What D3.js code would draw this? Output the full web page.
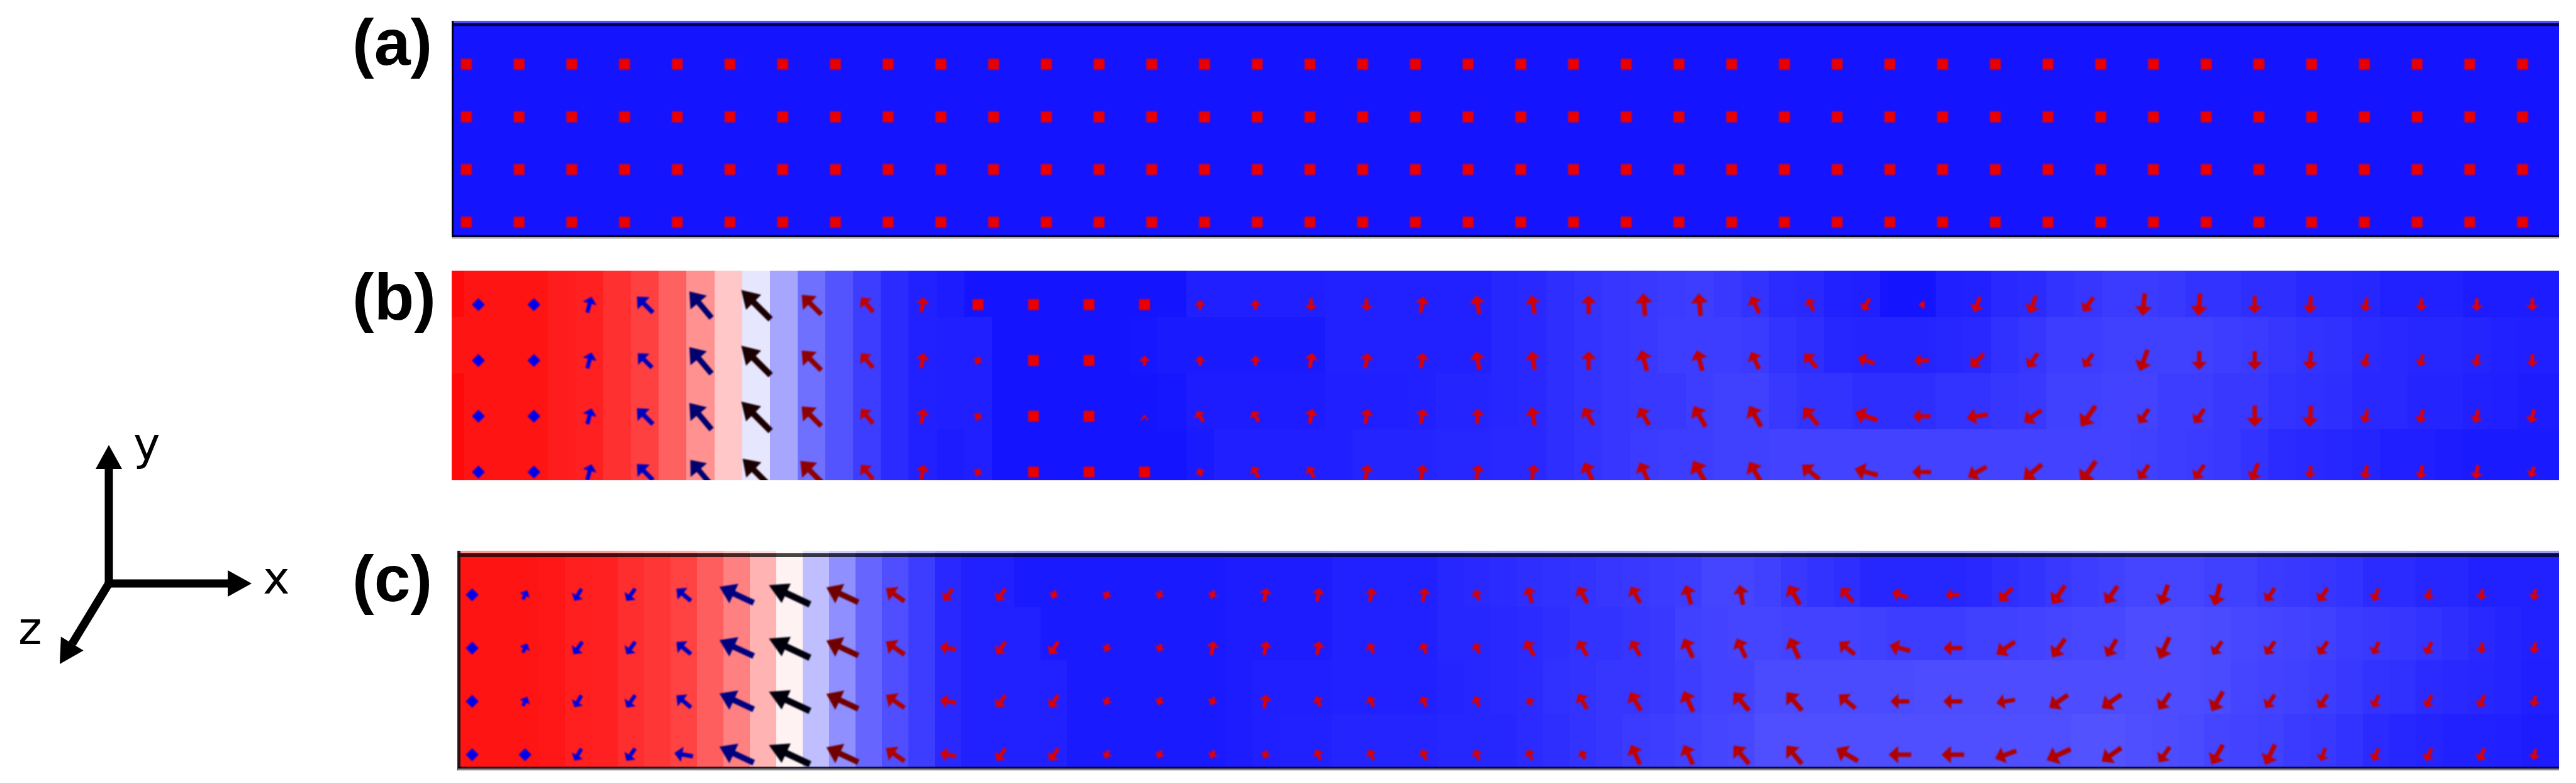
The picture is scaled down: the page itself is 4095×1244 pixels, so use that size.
<!DOCTYPE html>
<html>
<head>
<meta charset="utf-8">
<script src="https://cdn.jsdelivr.net/npm/d3@7"></script>
<style>
    html, body { margin: 0; padding: 0; background: #fff; }
    svg { display: block; }
</style>
</head>
<body>
<div id="chart"></div>
<script>
// background mz (percent) per half-column, one list for each row band. panel (b)
let bgB0 = [96,92,92,92,89,87,81,75,62,43,22,-10,-35,-56,-67,-76,-83,-87,-89,-92,-92,-92,-92,-92,-92,-92,-92,-88,-88,-88,-88,-88,-87,-87,-87,-87,-87,-87,-85,-84,-82,-80,-79,-78,-77,-76,-78,-80,-83,-84,-87,-88,-92,-92,-88,-87,-84,-83,-80,-79,-77,-77,-78,-80,-80,-82,-82,-84,-84,-85,-87,-87,-87,-89,-89,-89,-89];
let bgB1 = [92,92,92,92,89,87,81,75,62,43,22,-10,-35,-56,-67,-76,-83,-87,-88,-88,-92,-92,-92,-92,-92,-91,-90,-90,-90,-90,-90,-90,-87,-87,-87,-87,-87,-87,-85,-84,-82,-80,-79,-78,-76,-76,-76,-77,-80,-82,-85,-86,-86,-86,-85,-84,-81,-79,-76,-76,-75,-75,-75,-75,-76,-77,-79,-80,-81,-83,-84,-85,-85,-86,-87,-88,-88];
let bgB2 = [96,92,92,92,89,87,81,75,62,43,22,-10,-35,-56,-67,-76,-83,-87,-88,-88,-92,-92,-92,-92,-92,-92,-91,-89,-89,-89,-89,-89,-88,-88,-88,-87,-86,-86,-85,-84,-82,-80,-79,-78,-78,-76,-75,-75,-78,-80,-80,-82,-82,-82,-80,-80,-79,-78,-75,-75,-74,-74,-76,-76,-78,-78,-80,-81,-82,-84,-84,-86,-86,-87,-88,-89,-89];
let bgB3 = [96,92,92,92,89,87,81,75,62,43,22,-10,-35,-56,-67,-76,-83,-87,-89,-88,-92,-92,-92,-92,-92,-92,-92,-90,-88,-88,-88,-88,-88,-86,-86,-86,-85,-85,-84,-84,-82,-80,-79,-77,-76,-76,-75,-75,-74,-74,-74,-74,-74,-74,-74,-74,-74,-74,-74,-74,-74,-75,-76,-77,-78,-80,-83,-84,-85,-86,-88,-88,-89,-90,-90,-90,-90];

// panel (c)
let bgC0 = [92,92,92,92,91,88,87,82,79,74,63,50,30,5,-25,-44,-60,-69,-76,-84,-87,-87,-90,-90,-90,-90,-90,-90,-90,-90,-89,-89,-89,-89,-87,-87,-87,-87,-85,-84,-83,-82,-81,-80,-79,-78,-77,-76,-73,-73,-75,-78,-80,-82,-85,-85,-85,-85,-84,-82,-80,-78,-76,-75,-73,-73,-73,-75,-75,-77,-78,-79,-80,-83,-83,-85,-85,-87,-87,-87,-87];
let bgC1 = [92,92,92,92,91,88,87,82,79,74,63,50,30,5,-25,-44,-60,-69,-76,-84,-87,-87,-87,-90,-90,-90,-90,-90,-90,-90,-89,-89,-89,-89,-87,-87,-87,-87,-85,-85,-84,-83,-82,-80,-80,-79,-78,-75,-74,-73,-73,-74,-74,-74,-75,-76,-76,-76,-75,-75,-74,-73,-72,-72,-70,-70,-70,-71,-72,-73,-74,-75,-77,-78,-79,-80,-82,-84,-86,-87,-87];
let bgC2 = [92,92,92,92,91,88,87,82,79,74,63,50,30,5,-25,-44,-60,-69,-76,-84,-87,-87,-87,-87,-90,-90,-90,-90,-90,-90,-89,-88,-88,-88,-87,-87,-87,-87,-86,-85,-84,-83,-81,-80,-79,-79,-78,-76,-74,-74,-71,-71,-71,-71,-71,-71,-70,-70,-70,-70,-70,-70,-70,-70,-70,-70,-70,-71,-73,-74,-75,-76,-78,-80,-81,-83,-84,-85,-86,-88,-88];
let bgC3 = [92,92,92,92,91,88,87,82,79,74,63,50,30,5,-25,-44,-60,-69,-76,-84,-87,-87,-87,-87,-90,-90,-90,-90,-90,-90,-89,-88,-87,-87,-86,-86,-86,-86,-85,-85,-85,-83,-82,-80,-79,-77,-76,-75,-73,-72,-69,-69,-69,-69,-69,-69,-69,-69,-69,-69,-69,-69,-68,-68,-69,-70,-71,-73,-74,-75,-77,-78,-80,-83,-85,-86,-87,-87,-88,-89,-89];

// in-plane direction (degrees, 90 = up) and length of every arrow, 0 length = out of plane
let angB0 = [0,0,75,135,130,135,135,130,80,0,0,0,0,90,90,270,270,80,100,100,90,95,95,115,115,240,180,250,250,235,265,265,270,265,260,270,270,270];
let lenB0 = [0,0,26,36,55,66,44,30,24,0,0,0,0,16,16,20,20,26,30,30,30,36,36,30,22,22,10,26,30,28,36,36,28,28,22,20,20,20];
let angB1 = [0,0,75,135,130,135,135,130,80,60,0,0,90,90,90,80,80,80,100,100,90,105,105,115,130,160,180,225,235,235,250,270,270,265,255,255,255,270];
let lenB1 = [0,0,26,32,55,66,44,30,24,14,0,0,16,16,16,24,24,24,30,30,30,34,34,30,30,28,24,30,28,26,36,30,30,30,22,20,20,20];
let angB2 = [0,0,75,135,130,135,135,130,80,60,0,0,90,120,120,80,80,80,85,100,120,120,120,120,130,160,180,190,215,235,235,235,270,265,255,255,255,255];
let lenB2 = [0,0,26,36,55,66,44,30,24,14,0,0,6,20,20,24,24,24,24,30,32,32,38,38,36,38,28,34,34,40,28,28,34,34,22,22,22,22];
let angB3 = [0,0,75,135,130,135,135,130,80,60,0,0,0,110,120,120,80,80,80,80,115,115,120,120,140,165,180,210,220,235,235,235,250,265,260,260,260,250];
let lenB3 = [0,0,26,36,50,60,50,30,24,14,0,0,0,14,20,20,24,24,24,24,34,34,42,38,36,38,30,34,38,42,28,28,30,20,22,22,22,18];

let angC0 = [0,65,240,235,140,155,155,155,145,235,235,250,65,250,250,80,80,80,80,115,105,120,120,105,100,120,130,160,180,225,235,235,250,255,235,235,245,260,260,260];
let lenC0 = [0,16,22,24,30,60,72,56,36,24,24,14,14,14,14,22,22,22,22,18,26,30,30,32,32,36,30,26,22,30,36,34,34,36,26,26,22,18,18,18];
let angC1 = [0,65,235,235,140,155,155,155,145,170,235,235,250,250,80,80,80,115,115,115,120,120,120,115,115,115,140,165,180,215,235,240,245,235,235,235,245,245,260,260];
let lenC1 = [0,16,24,24,30,60,72,56,36,26,24,24,14,14,22,22,22,18,18,18,28,28,28,34,34,36,32,34,30,36,36,32,38,26,26,26,22,22,18,18];
let angC2 = [0,65,240,235,140,155,155,155,145,170,235,235,250,250,250,80,115,115,115,115,115,120,120,115,130,130,140,180,180,190,215,215,235,240,235,235,245,245,245,260];
let lenC2 = [0,16,22,24,30,60,72,56,36,26,24,24,14,14,14,22,18,18,18,18,14,28,34,36,38,38,34,30,30,30,36,38,32,36,26,26,22,22,22,18];
let angC3 = [0,0,240,235,170,155,155,155,145,170,235,235,250,250,250,250,115,115,115,115,115,115,115,115,130,130,150,180,180,200,205,215,235,240,245,250,245,245,245,260];
let lenC3 = [0,0,22,24,30,60,72,56,36,26,24,24,14,14,14,14,18,18,18,18,18,16,34,34,38,38,40,36,36,36,42,38,30,36,36,22,22,22,22,18];

// panel (a) is uniform
let mzA = -92;
let columnsA = d3.range(40);
let panelLabels = ["(a)", "(b)", "(c)"];
let axisNames = ["x", "y", "z"];

const width = 4095, height = 1244;

let fieldColor = d3.scaleLinear().domain([-100, 0, 100]).range(["#0000ff", "#ffffff", "#ff0000"]);
let arrowColor = d3.scaleLinear().domain([-100, 0, 100]).range(["#ff0000", "#000000", "#0000ff"]);

let svg = d3.select("#chart").append("svg")
    .attr("width", width)
    .attr("height", height)
    .style("background", "#fff");

let defs = svg.append("defs");

// arrow outline along +x, centred on the cell
function arrowPath(L) {
    let hl = Math.max(0.42 * L, 9), hh = Math.min(0.24 * L + 5, 17), sh = 0.045 * L + 2;
    let p = d3.path();
    p.moveTo(-L / 2, -sh);
    p.lineTo(L / 2 - hl, -sh);
    p.lineTo(L / 2 - hl, -hh);
    p.lineTo(L / 2, 0);
    p.lineTo(L / 2 - hl, hh);
    p.lineTo(L / 2 - hl, sh);
    p.lineTo(-L / 2, sh);
    p.closePath();
    return p.toString();
}

let squareSymbol = d3.symbol().type(d3.symbolSquare).size(300)();
let diamondSymbol = d3.symbol().type(d3.symbolSquare).size(210)();

function drawPanel(id, box, xRange, yRange, bands, angles, lengths) {
    let nCols = angles[0].length;
    let xScale = d3.scaleLinear().domain([0, nCols - 1]).range(xRange);
    let yScale = d3.scaleLinear().domain([0, 3]).range(yRange);

    defs.append("clipPath").attr("id", "clip-" + id).append("rect")
        .attr("x", box.x0).attr("y", box.y0)
        .attr("width", box.x1 - box.x0).attr("height", box.y1 - box.y0);

    let panel = svg.append("g").attr("clip-path", "url(#clip-" + id + ")");

    // background cells: half an arrow column wide, first one sits left of column 0
    let cells = [];
    bands.forEach((band, b) => {
        let top = b === 0 ? box.y0 : yScale(b - 1 + 0.23);
        let bottom = b === 3 ? box.y1 : yScale(b + 0.23);
        band.forEach((mz, k) => cells.push({ k: k, mz: mz, top: top, bottom: bottom }));
    });
    panel.append("g").selectAll("rect")
        .data(cells)
        .join("rect")
        .attr("shape-rendering", "crispEdges")
        .attr("x", d => xScale((d.k - 1) / 2 - 0.25))
        .attr("y", d => d.top)
        .attr("width", d => xScale(1) - xScale(0.5) + 1)
        .attr("height", d => d.bottom - d.top)
        .attr("fill", d => fieldColor(d.mz));

    // arrows
    let marks = [];
    angles.forEach((row, r) => {
        row.forEach((angle, i) => {
            marks.push({ r: r, i: i, angle: angle, len: lengths[r][i], mz: bands[r][2 * i + 1] });
        });
    });
    panel.append("g").style("filter", "blur(0.8px)")
        .selectAll("path")
        .data(marks)
        .join("path")
        .attr("d", d => d.len > 0 ? arrowPath(d.len) : (d.mz > 0 ? diamondSymbol : squareSymbol))
        .attr("transform", d => {
            let rot = d.len > 0 ? -d.angle : (d.mz > 0 ? 45 : 0);
            return "translate(" + xScale(d.i) + "," + yScale(d.r) + ") rotate(" + rot + ")";
        })
        .attr("fill", d => arrowColor(d.mz));
}

// panel (a)
let bandA = d3.range(0, 81).map(() => mzA);
let zeroA = columnsA.map(() => 0);
drawPanel("a", { x0: 718, x1: 4068, y0: 33, y1: 378 }, [741.4, 4010], [102, 353],
    [bandA, bandA, bandA, bandA], [zeroA, zeroA, zeroA, zeroA], [zeroA, zeroA, zeroA, zeroA]);

// panel (b)
drawPanel("b", { x0: 718, x1: 4068, y0: 430, y1: 763 }, [760.5, 4025.5], [484, 750],
    [bgB0, bgB1, bgB2, bgB3], [angB0, angB1, angB2, angB3], [lenB0, lenB1, lenB2, lenB3]);

// panel (c)
drawPanel("c", { x0: 728, x1: 4068, y0: 875, y1: 1224 }, [750.6, 4029], [945, 1199],
    [bgC0, bgC1, bgC2, bgC3], [angC0, angC1, angC2, angC3], [lenC0, lenC1, lenC2, lenC3]);

// frame lines of panels (a) and (c), the lighter/greyer rims are from the source image
let frames = svg.append("g").attr("shape-rendering", "crispEdges");
let rule = (x, y, w, h, fill, op) => frames.append("rect")
    .attr("x", x).attr("y", y).attr("width", w).attr("height", h)
    .attr("fill", fill).attr("opacity", op);

rule(718, 33, 3350, 4, "#ffffff", 0.25);
rule(718, 37, 3350, 4, "#00004a", 1);
rule(718, 41, 3350, 2, "#000000", 0.12);
rule(718, 33, 3, 345, "#000010", 1);
rule(718, 373, 3350, 4, "#00001a", 1);
rule(718, 377, 3350, 3, "#cccccc", 1);

rule(728, 875, 3340, 4, "#ffffff", 0.55);
rule(728, 879, 3340, 6, "#000000", 0.72);
rule(727, 875, 5, 349, "#111111", 0.9);
rule(728, 1218, 3340, 3, "#000020", 0.88);
rule(728, 1221, 3340, 3, "#8a8a80", 1);

// panel letters
let labelY = [103, 507, 955];
svg.append("g").selectAll("text")
    .data(panelLabels)
    .join("text")
    .attr("x", 560)
    .attr("y", (d, i) => labelY[i])
    .attr("font-family", "'Liberation Sans', Arial, sans-serif")
    .attr("font-weight", "bold")
    .attr("font-size", 104)
    .attr("fill", "#000")
    .text(d => d);

// coordinate triad
let origin = [173, 927];
let tips = [[400, 927], [173, 707], [95, 1055]];
let labelPos = [[418, 943], [212, 730], [29, 1023]];
let triad = svg.append("g");
axisNames.forEach((name, i) => {
    let tip = tips[i];
    let dx = tip[0] - origin[0], dy = tip[1] - origin[1];
    let len = Math.hypot(dx, dy), ux = dx / len, uy = dy / len;
    let base = [tip[0] - ux * 38, tip[1] - uy * 38];
    triad.append("line")
        .attr("x1", origin[0] - (i === 2 ? 0 : ux * 6))
        .attr("y1", origin[1] - (i === 2 ? 0 : uy * 6))
        .attr("x2", base[0]).attr("y2", base[1])
        .attr("stroke", "#000").attr("stroke-width", 13);
    triad.append("polygon")
        .attr("points", [
            [tip[0], tip[1]],
            [base[0] - uy * 21, base[1] + ux * 21],
            [base[0] + uy * 21, base[1] - ux * 21]
        ].join(" "))
        .attr("fill", "#000");
    triad.append("text")
        .attr("x", labelPos[i][0]).attr("y", labelPos[i][1])
        .attr("font-family", "'DejaVu Sans', sans-serif")
        .attr("font-size", 72)
        .attr("fill", "#000")
        .text(name);
});
</script>
</body>
</html>
